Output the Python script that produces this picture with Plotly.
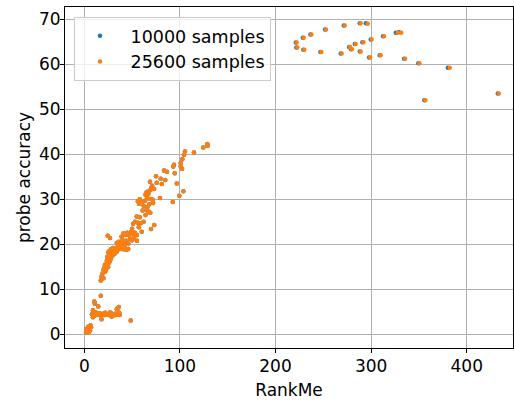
import plotly.graph_objects as go

# Lower cluster (both sample sizes overlap almost exactly)
low_rankme = [
    2, 2.5, 3, 3.5, 4, 4.5, 5, 5.5, 6, 6.5, 3, 4, 5, 2, 6, 7,
    8, 9, 10.5, 11, 11.5, 13, 14.6, 15, 16, 17, 17.2, 18, 19, 20, 21, 22, 23, 24, 25, 26,
    27, 28, 28.5, 29, 30, 31, 32, 33, 34, 35, 36, 34.5, 35.5, 36.5, 37, 48.5, 10, 12, 9,
    18, 20, 17.2, 19, 20, 21, 22, 23, 24, 25, 26, 21.5, 23.5, 25, 27, 22,
    24, 26, 27, 28, 29, 30, 31, 25, 28, 32, 33, 26.5, 30, 34, 35, 37, 39, 41, 44, 46,
    33.9, 35, 36, 38, 40, 42, 44, 46, 48, 50, 52, 55, 38, 42,
    24.5, 26.9, 39, 43, 45, 47, 49, 51, 53, 55, 60, 41,
    51, 53, 56, 59, 62, 69.8, 73.2, 54.8, 50, 57,
    61, 64, 65, 67, 69, 58, 66,
    56, 58, 60, 63.5, 66, 70, 71.5, 72, 57.2, 79.2, 92.5, 99.4, 62, 68,
    64, 65, 66, 67, 69, 70, 71, 68.7, 75.7, 81.0, 96.7, 103.6, 73, 65.5,
    75, 79.9, 84.7, 83.4, 86.5, 93.8, 93.1, 94.6, 100.8, 100.8, 102.2,
    102.5, 104.3, 105.3, 114.7, 124.5, 128.7, 129,
]
low_acc = [
    0.5, 0.8, 1.0, 1.3, 0.9, 1.5, 1.2, 1.8, 1.4, 2.0, 0.4, 1.7, 0.6, 1.2, 0.9, 1.6,
    4.5, 5.4, 7.3, 6.8, 4.6, 4.3, 6.2, 4.4, 4.7, 4.2, 8.6, 3.4, 4.5, 4.6, 4.3, 4.8, 4.4, 4.5, 4.3, 4.6,
    4.9, 4.7, 4.0, 4.4, 4.2, 4.5, 4.6, 4.3, 5.6, 5.9, 6.1, 4.4, 4.5, 4.8, 4.3, 3.1, 4.1, 4.9, 3.8,
    12.8, 12.5, 12.0, 13.5, 14.3, 14.8, 15.2, 14.6, 15.8, 15.0, 16.0, 15.5, 16.3, 16.8, 16.4, 14.0,
    17.2, 17.5, 18.0, 17.0, 18.3, 17.6, 18.6, 18.2, 18.9, 18.0, 19.0, 18.6, 19.2, 18.4, 19.5, 19.0, 19.3, 18.9, 18.8, 19.0,
    20.3, 20.0, 20.6, 20.2, 21.0, 20.5, 20.8, 20.2, 21.2, 20.9, 21.5, 20.8, 19.8, 19.6,
    21.9, 21.4, 21.7, 22.1, 22.6, 22.0, 22.8, 22.3, 22.6, 22.1, 22.8, 22.4,
    24.6, 25.0, 24.8, 24.7, 25.0, 23.4, 24.3, 26.2, 23.5, 23.8,
    27.5, 26.5, 27.7, 27.3, 27.0, 26.0, 28.3,
    29.6, 30.0, 29.4, 29.7, 30.2, 30.1, 29.9, 29.2, 29.0, 30.3, 29.4, 30.8, 28.6, 28.9,
    31.0, 31.5, 31.7, 31.2, 32.0, 32.6, 33.0, 33.9, 33.7, 33.4, 33.5, 31.8, 32.3, 30.6,
    35.1, 34.6, 34.3, 36.4, 36.1, 37.7, 37.3, 35.8, 38.0, 37.3, 36.8,
    38.9, 39.9, 40.6, 40.4, 41.5, 42.3, 41.9,
]

# Upper cluster
high_rankme_10000 = [221.2, 221.8, 228.5, 229.1, 236.5, 251.8, 246.9, 271.4, 268.2, 288.1,
                     294.5, 276.9, 279.0, 282.9, 288.1, 290.9, 299.6, 297.9, 309.0, 312.5,
                     325.8, 329.0, 334.5, 349.4, 380.2, 355.7, 432.5]
high_acc_10000 = [64.8, 63.7, 65.9, 63.2, 66.6, 67.7, 62.7, 68.6, 62.4, 69.1,
                  69.1, 63.8, 63.3, 64.5, 62.8, 64.9, 65.5, 61.5, 62.0, 66.2,
                  67.0, 67.1, 61.2, 60.2, 59.2, 52.0, 53.5]
high_rankme_25600 = [222.2, 222.8, 229.5, 230.1, 237.5, 252.8, 247.9, 272.4, 269.2, 289.1,
                     296.5, 277.9, 280.0, 283.9, 289.1, 291.9, 300.6, 298.9, 310.0, 313.5,
                     327.8, 331.5, 335.5, 350.4, 382.2, 356.7, 433.5]
high_acc_25600 = [64.8, 63.7, 65.9, 63.2, 66.6, 67.7, 62.7, 68.6, 62.4, 69.1,
                  69.0, 63.8, 63.3, 64.5, 62.8, 64.9, 65.5, 61.5, 62.0, 66.2,
                  67.0, 67.0, 61.2, 60.2, 59.2, 52.0, 53.5]

series_names = ["\u00a010000 samples", "\u00a025600 samples"]
x_ticks = [0, 100, 200, 300, 400]
y_ticks = [0, 10, 20, 30, 40, 50, 60, 70]

blue = "#1f77b4"
orange = "#ff7f0e"
font = "DejaVu Sans"

fig = go.Figure()
fig.add_trace(go.Scatter(
    x=low_rankme + high_rankme_10000, y=low_acc + high_acc_10000,
    mode="markers", name=series_names[0],
    marker=dict(color=blue, size=4.5, line=dict(width=0)),
))
fig.add_trace(go.Scatter(
    x=low_rankme + high_rankme_25600, y=low_acc + high_acc_25600,
    mode="markers", name=series_names[1],
    marker=dict(color=orange, size=4.5, line=dict(width=0)),
))

axis_common = dict(
    showline=True, mirror=True, linecolor="black", linewidth=1,
    showgrid=True, gridcolor="#b0b0b0", gridwidth=1,
    zeroline=False, ticks="outside", ticklen=4, tickcolor="black", tickwidth=1,
    tickfont=dict(family=font, size=17, color="black"),
)

fig.update_layout(
    width=514, height=401,
    margin=dict(l=65, r=1, t=7, b=53),
    paper_bgcolor="white", plot_bgcolor="white",
    font=dict(family=font, size=17, color="black"),
    xaxis=dict(range=[-20.2, 448.4], tickvals=x_ticks,
               title=dict(text="RankMe", font=dict(family=font, size=17), standoff=8),
               ticklabelstandoff=-1, automargin=False, **axis_common),
    yaxis=dict(range=[-3.0, 72.7], tickvals=y_ticks,
               title=dict(text="probe accuracy", font=dict(family=font, size=17), standoff=4),
               ticklabelstandoff=-4, automargin=False, **axis_common),
    legend=dict(x=0.02, y=0.971, xanchor="left", yanchor="top",
                bgcolor="rgba(255,255,255,0.8)", bordercolor="#cccccc", borderwidth=1,
                font=dict(family=font, size=17.5, color="black"),
                itemsizing="trace", itemwidth=40, tracegroupgap=0),
    showlegend=True,
)

fig.write_html("out.html", config={"displayModeBar": False},
               post_script="document.body.style.margin='0';document.body.style.padding='0';")
